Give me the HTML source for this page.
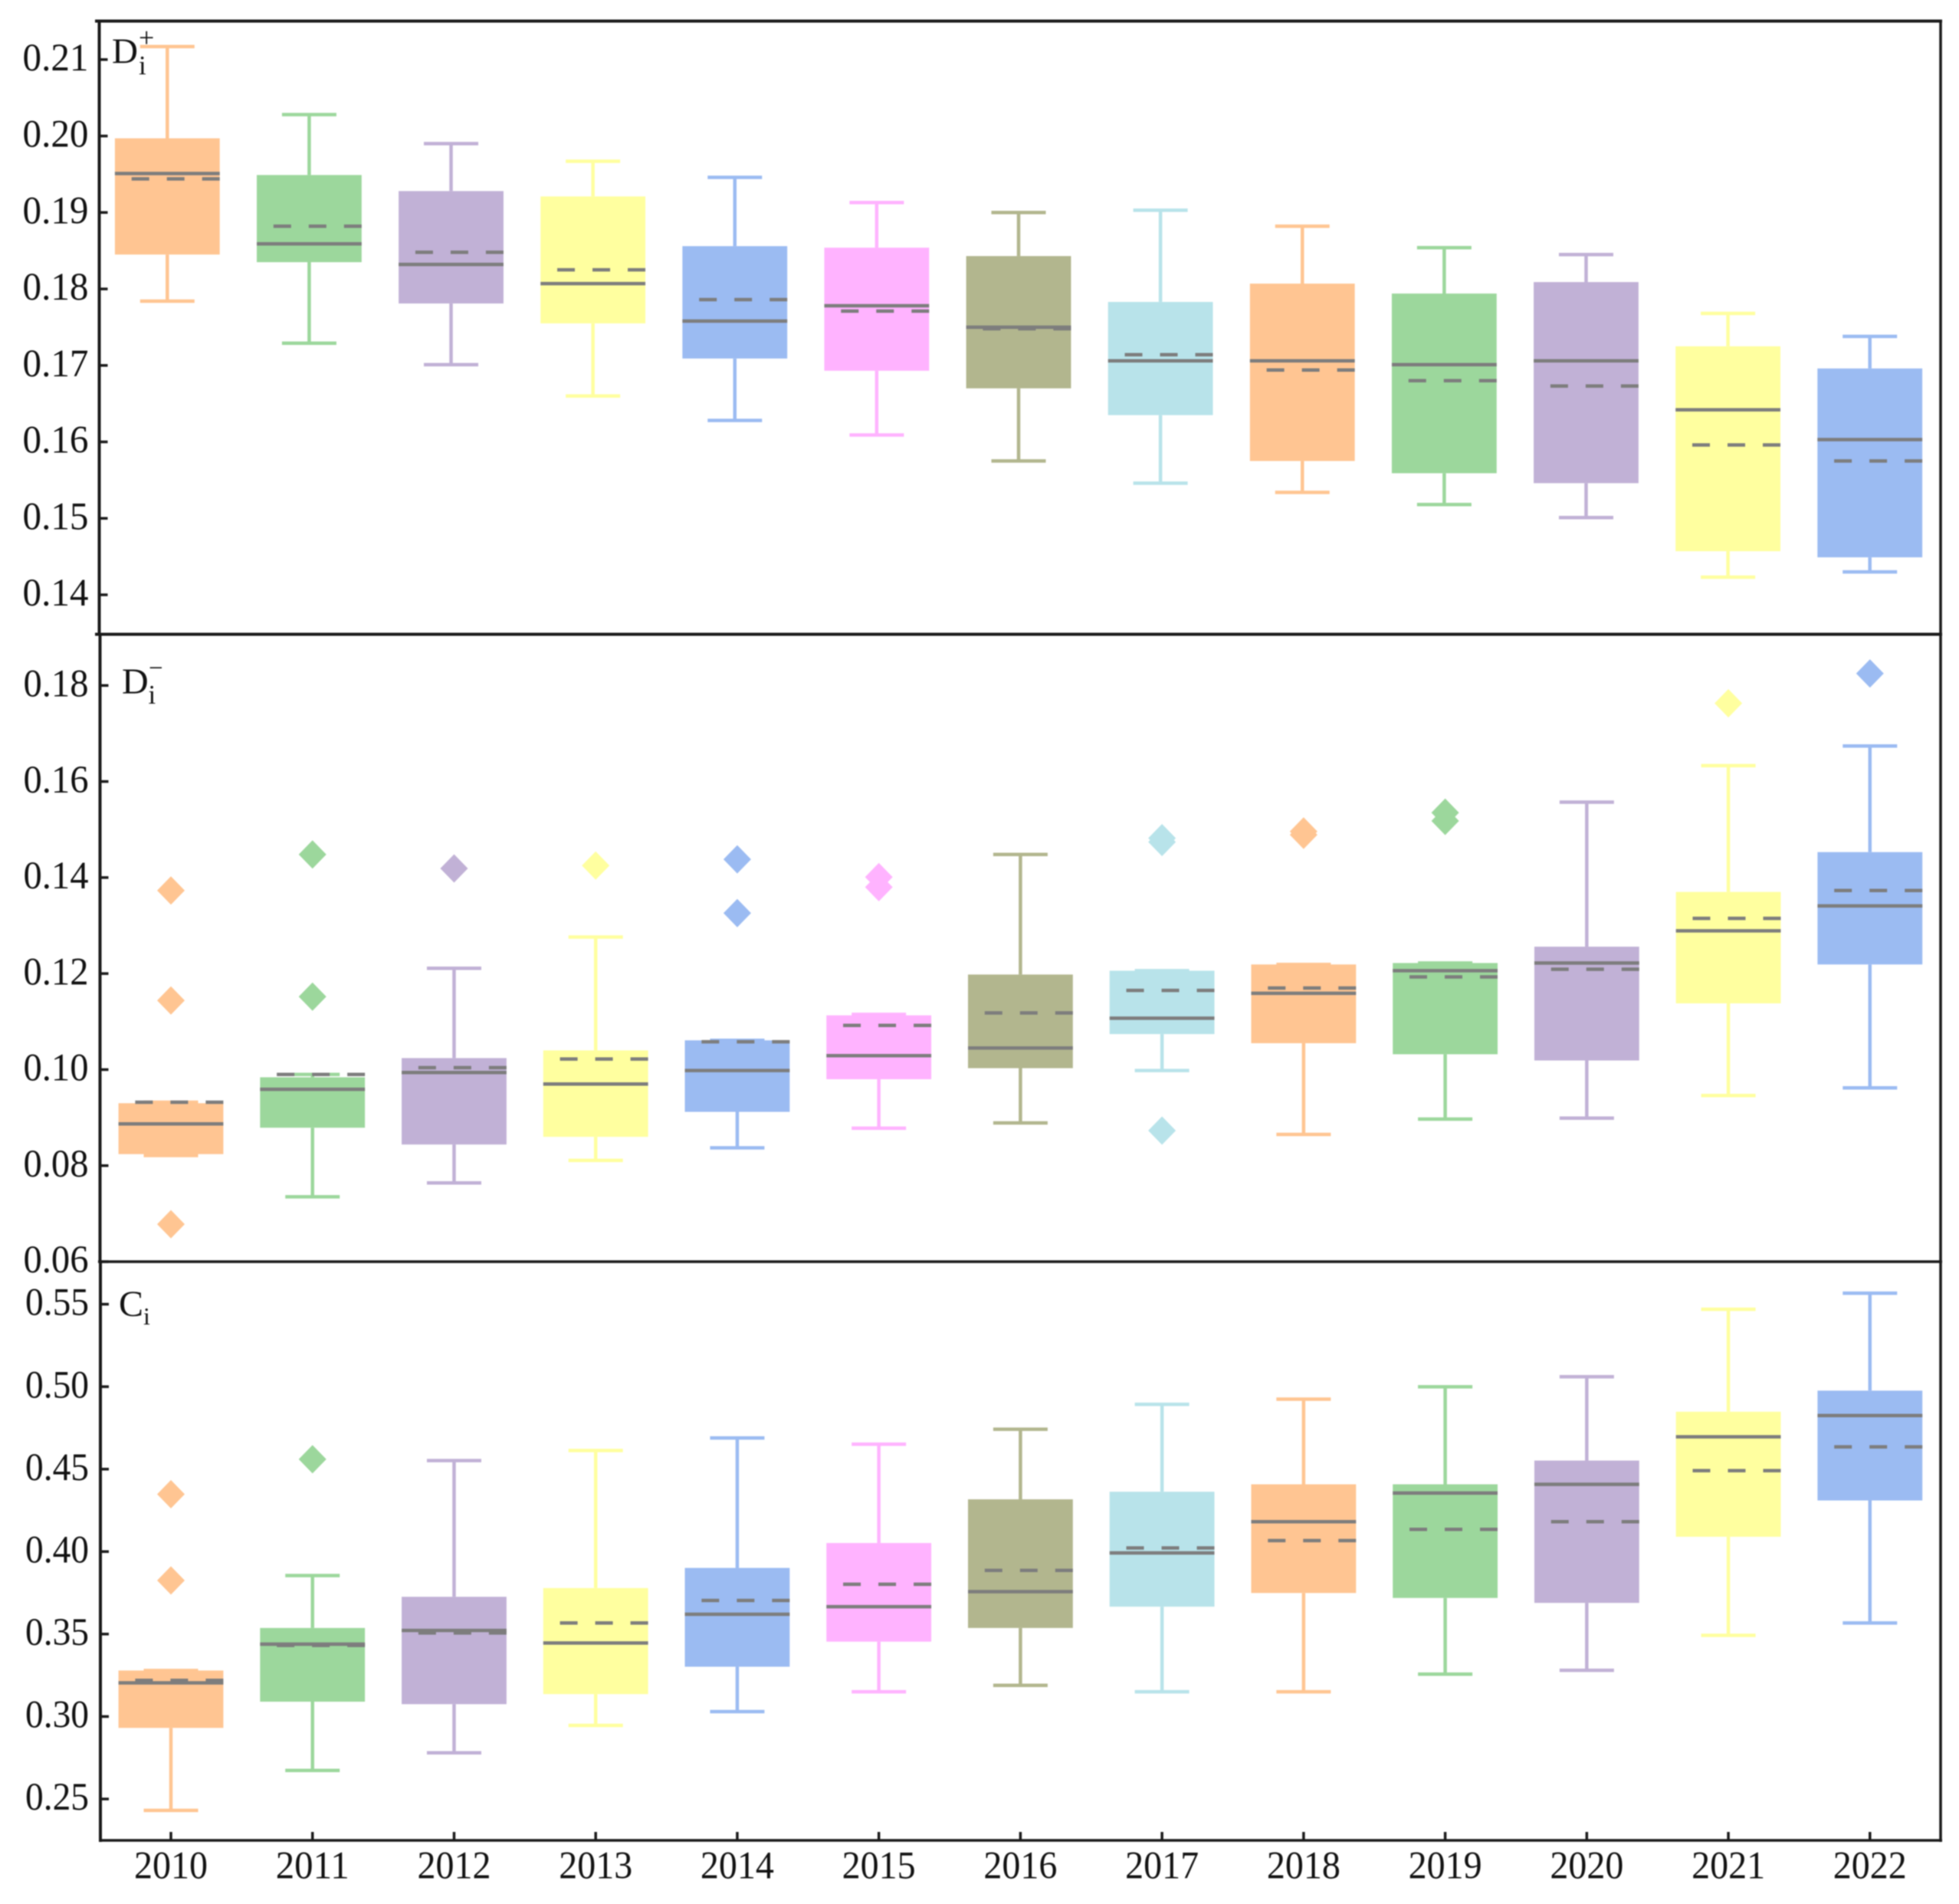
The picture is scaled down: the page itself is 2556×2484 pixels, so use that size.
<!DOCTYPE html>
<html lang="en">
<head>
<meta charset="utf-8">
<title>Boxplots of distance and closeness indices, 2010–2022</title>
<style>
html,body{margin:0;padding:0;background:#fff;}
svg{display:block;}
text{font-family:"Liberation Serif",serif;fill:#111;}
</style>
</head>
<body>
<svg id="chart" xmlns="http://www.w3.org/2000/svg" width="2556" height="2484" viewBox="0 0 2556 2484">
  <defs>
    <filter id="soft" x="0" y="0" width="100%" height="100%" filterUnits="objectBoundingBox" color-interpolation-filters="sRGB">
      <feGaussianBlur stdDeviation="0.8"/>
    </filter>
  </defs>
  <rect x="0" y="0" width="2556" height="2484" fill="#ffffff"/>
  <g filter="url(#soft)">
  <rect x="0" y="0" width="2556" height="2484" fill="#ffffff"/>
  <g id="marks"></g>
  <g id="frame" stroke="#1a1a1a" fill="none">
    <line x1="124" y1="27.5" x2="2534" y2="27.5" stroke-width="4"/>
    <line x1="124" y1="827.5" x2="2534" y2="827.5" stroke-width="4"/>
    <line x1="128" y1="1646" x2="2534" y2="1646" stroke-width="3.5"/>
    <line x1="129" y1="2401" x2="2534" y2="2401" stroke-width="3.5"/>
    <line x1="129.5" y1="26" x2="129.5" y2="828" stroke-width="4"/>
    <line x1="130.5" y1="827" x2="130.5" y2="1647" stroke-width="4"/>
    <line x1="131" y1="1645" x2="131" y2="2403" stroke-width="4"/>
    <line x1="2532" y1="26" x2="2532" y2="2403" stroke-width="3.5"/>
  </g>
  <g id="labels">
    <text x="146" y="82" font-size="47">D</text>
    <text x="181" y="61" font-size="36">+</text>
    <text x="181" y="97" font-size="35">i</text>
    <text x="159" y="905" font-size="48">D</text>
    <text x="194" y="882" font-size="33">−</text>
    <text x="193.5" y="918" font-size="35">i</text>
    <text x="155" y="1717" font-size="48">C</text>
    <text x="187" y="1728" font-size="32">i</text>
  </g>
  </g>
</svg>
<script>
// ---------- categories ----------
const years = ['2010','2011','2012','2013','2014','2015','2016','2017','2018','2019','2020','2021','2022'];

// ---------- tick labels ----------
const dPlusTicks = ['0.21','0.20','0.19','0.18','0.17','0.16','0.15','0.14'];
const dMinusTicks = ['0.18','0.16','0.14','0.12','0.10','0.08','0.06'];
const closenessTicks = ['0.55','0.50','0.45','0.40','0.35','0.30','0.25'];

// ---------- D+ series ----------
const dPlusHigh = [0.2117,0.2028,0.1990,0.1967,0.1946,0.1913,0.1900,0.1903,0.1882,0.1854,0.1845,0.1768,0.1738];
const dPlusQ3 = [0.1997,0.1949,0.1928,0.1921,0.1856,0.1854,0.1843,0.1783,0.1807,0.1794,0.1809,0.1725,0.1696];
const dPlusMedian = [0.1951,0.1859,0.1832,0.1807,0.1758,0.1778,0.1750,0.1706,0.1706,0.1701,0.1706,0.1642,0.1603];
const dPlusMean = [0.1944,0.1882,0.1848,0.1825,0.1786,0.1771,0.1748,0.1714,0.1694,0.1680,0.1673,0.1596,0.1575];
const dPlusQ1 = [0.1845,0.1835,0.1781,0.1755,0.1709,0.1693,0.1670,0.1635,0.1575,0.1559,0.1546,0.1457,0.1449];
const dPlusLow = [0.1784,0.1729,0.1701,0.1660,0.1628,0.1609,0.1575,0.1546,0.1534,0.1518,0.1501,0.1423,0.1430];
const dPlusOutliers = [[],[],[],[],[],[],[],[],[],[],[],[],[]];

// ---------- D- series ----------
const dMinusHigh = [0.0932,0.0990,0.1211,0.1276,0.1061,0.1115,0.1448,0.1206,0.1219,0.1222,0.1557,0.1633,0.1674];
const dMinusQ3 = [0.0930,0.0984,0.1024,0.1040,0.1061,0.1113,0.1198,0.1206,0.1219,0.1222,0.1256,0.1370,0.1453];
const dMinusMedian = [0.0887,0.0959,0.0994,0.0970,0.0998,0.1029,0.1045,0.1107,0.1159,0.1206,0.1222,0.1289,0.1341];
const dMinusMean = [0.0932,0.0990,0.1004,0.1022,0.1058,0.1092,0.1118,0.1165,0.1170,0.1193,0.1209,0.1315,0.1373];
const dMinusQ1 = [0.0824,0.0879,0.0844,0.0860,0.0912,0.0980,0.1003,0.1074,0.1055,0.1032,0.1019,0.1138,0.1219];
const dMinusLow = [0.0821,0.0735,0.0764,0.0811,0.0837,0.0878,0.0889,0.0998,0.0865,0.0897,0.0899,0.0946,0.0962];
const dMinusOutliers = [[0.1373,0.1144,0.0678],[0.1448,0.1152],[0.1419],[0.1425],[0.1438,0.1326],[0.1401,0.1380],[],[0.1482,0.1474,0.0873],[0.1496,0.1489],[0.1535,0.1518],[],[0.1763],[0.1825]];

// ---------- Ci series ----------
const closenessHigh = [0.3279,0.3855,0.4552,0.4613,0.4689,0.4651,0.4742,0.4893,0.4924,0.4999,0.5060,0.5469,0.5567];
const closenessQ3 = [0.3279,0.3537,0.3726,0.3779,0.3901,0.4052,0.4317,0.4363,0.4408,0.4408,0.4552,0.4848,0.4976];
const closenessMedian = [0.3204,0.3439,0.3522,0.3446,0.3620,0.3666,0.3757,0.3992,0.4181,0.4355,0.4408,0.4696,0.4825];
const closenessMean = [0.3219,0.3431,0.3507,0.3567,0.3704,0.3802,0.3886,0.4022,0.4067,0.4135,0.4181,0.4491,0.4635];
const closenessQ1 = [0.2931,0.3090,0.3075,0.3136,0.3302,0.3454,0.3537,0.3666,0.3749,0.3719,0.3689,0.4090,0.4310];
const closenessLow = [0.2431,0.2673,0.2780,0.2946,0.3030,0.3150,0.3189,0.3150,0.3150,0.3257,0.3280,0.3492,0.3567];
const closenessOutliers = [[0.4348,0.3825],[0.4560],[],[],[],[],[],[],[],[],[],[],[]];

// ---------- palette ----------
const palette = ['#FFC592','#9CD79C','#C1B1D6','#FFFF9F','#9BBBF2','#FFB3FF','#B2B68E','#B8E3EA','#FFC592','#9CD79C','#C1B1D6','#FFFF9F','#9BBBF2'];
const lineGrey = '#7d7d7d';

// ---------- axis functions ----------
function linear(v0, p0, v1, p1) {
  return function (v) { return p0 + (v - v0) * (p1 - p0) / (v1 - v0); };
}
const xDPlus = linear(0, 218.3, 12, 2439.7);
const xLower = linear(0, 223, 12, 2439.8);
const yDPlus = linear(0.21, 77.7, 0.14, 776);
const yDMinus = linear(0.18, 894.3, 0.06, 1646);
const yCloseness = linear(0.55, 1701.5, 0.25, 2347);

const NS = 'http://www.w3.org/2000/svg';
const marks = document.getElementById('marks');

function mk(tag, attrs, parent) {
  const el = document.createElementNS(NS, tag);
  for (const k in attrs) el.setAttribute(k, attrs[k]);
  parent.appendChild(el);
  return el;
}

function drawYear(prefix, i, s, xf, yf, group) {
  const cx = xf(i), col = palette[i], halfBox = 68.4, halfCap = 35.5, lw = 4.5;
  const left = cx - halfBox, right = cx + halfBox;
  const yr = years[i];

  const upper = mk('line', {x1:cx, x2:cx, y1:yf(s.high[i]), y2:yf(s.q3[i]), stroke:col, 'stroke-width':lw}, group);
  
  

  const lower = mk('line', {x1:cx, x2:cx, y1:yf(s.q1[i]), y2:yf(s.low[i]), stroke:col, 'stroke-width':lw}, group);
  
  

  const capHi = mk('line', {x1:cx-halfCap, x2:cx+halfCap, y1:yf(s.high[i]), y2:yf(s.high[i]), stroke:col, 'stroke-width':lw}, group);
  
  

  const capLo = mk('line', {x1:cx-halfCap, x2:cx+halfCap, y1:yf(s.low[i]), y2:yf(s.low[i]), stroke:col, 'stroke-width':lw}, group);
  
  

  const box = mk('rect', {x:left, y:yf(s.q3[i]), width:right-left, height:yf(s.q1[i])-yf(s.q3[i]), fill:col}, group);
  
  

  const mean = mk('line', {x1:right, x2:left, y1:yf(s.mean[i]), y2:yf(s.mean[i]), stroke:lineGrey, 'stroke-width':lw, 'stroke-dasharray':'23 23'}, group);
  
  

  const median = mk('line', {x1:left, x2:right, y1:yf(s.median[i]), y2:yf(s.median[i]), stroke:lineGrey, 'stroke-width':lw}, group);
  
  

  s.outliers[i].forEach(function (v, j) {
    const py = yf(v);
    const pts = [cx, py-18.5, cx+18, py, cx, py+18.5, cx-18, py].join(' ');
    const d = mk('polygon', {points:pts, fill:col}, group);
    
    
  });
}

function drawYAxis(prefix, ticks, yf, spineX, labelRight, labelWidth) {
  const g = mk('g', {}, marks);
  
  
  ticks.forEach(function (t) {
    const py = yf(parseFloat(t));
    const tick = mk('line', {x1:spineX, x2:spineX+11, y1:py, y2:py, stroke:'#1a1a1a', 'stroke-width':3.5}, g);
    
    
    const label = mk('text', {x:labelRight-labelWidth, y:py+14.2, 'font-size':51, textLength:labelWidth, lengthAdjust:'spacingAndGlyphs'}, g);
    label.textContent = t;
    
    
  });
}

function drawPanel(prefix, s, xf, yf) {
  const g = mk('g', {}, marks);
  
  
  years.forEach(function (y, i) { drawYear(prefix, i, s, xf, yf, g); });
}

drawPanel('d-plus', {high:dPlusHigh, q3:dPlusQ3, median:dPlusMedian, mean:dPlusMean, q1:dPlusQ1, low:dPlusLow, outliers:dPlusOutliers}, xDPlus, yDPlus);
drawPanel('d-minus', {high:dMinusHigh, q3:dMinusQ3, median:dMinusMedian, mean:dMinusMean, q1:dMinusQ1, low:dMinusLow, outliers:dMinusOutliers}, xLower, yDMinus);
drawPanel('closeness', {high:closenessHigh, q3:closenessQ3, median:closenessMedian, mean:closenessMean, q1:closenessQ1, low:closenessLow, outliers:closenessOutliers}, xLower, yCloseness);

drawYAxis('d-plus', dPlusTicks, yDPlus, 129.5, 115.5, 86);
drawYAxis('d-minus', dMinusTicks, yDMinus, 130.5, 115.5, 85);
drawYAxis('closeness', closenessTicks, yCloseness, 131, 116, 83);

const xAxisGroup = mk('g', {}, marks);


years.forEach(function (yr, i) {
  const px = xLower(i);
  const tick = mk('line', {x1:px, x2:px, y1:2401, y2:2390, stroke:'#1a1a1a', 'stroke-width':3.5}, xAxisGroup);
  
  
  const label = mk('text', {x:px-48, y:2450.7, 'font-size':51, textLength:96, lengthAdjust:'spacingAndGlyphs'}, xAxisGroup);
  label.textContent = yr;
  
  
});
</script>
</body>
</html>
